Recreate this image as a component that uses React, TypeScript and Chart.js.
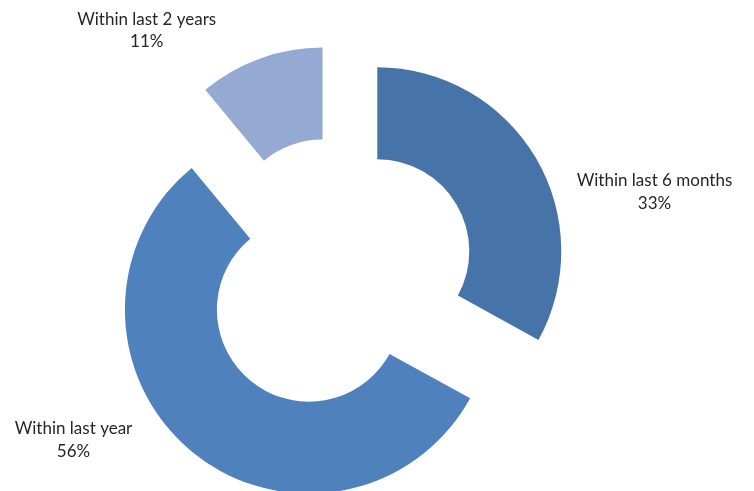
import React, { useEffect, useRef } from "react";
import { Chart, registerables } from "chart.js";

Chart.register(...registerables);

const categories = ["Within last 6 months", "Within last year", "Within last 2 years"];
const values = [33, 56, 11];
const percentLabels = ["33%", "56%", "11%"];
const sliceColors = ["#4673A8", "#4F81BD", "#95AAD2"];

// label anchor offsets relative to the doughnut centre (layout only)
const labelOffsets = [
  [316.5, -82.5],
  [-264.5, 165.5],
  [-191.3, -244],
];

const explodePlugin = {
  id: "explode",
  beforeDatasetDraw(chart: any, args: any, opts: any) {
    const meta = args.meta;
    const ctx = chart.ctx;
    meta.data.forEach((arc: any) => {
      const p = arc.getProps(["startAngle", "endAngle", "outerRadius"], true);
      const mid = (p.startAngle + p.endAngle) / 2;
      const d = p.outerRadius * (opts.ratio || 0);
      ctx.save();
      ctx.translate(Math.cos(mid) * d, Math.sin(mid) * d);
      arc.draw(ctx);
      ctx.restore();
    });
    return false;
  },
};

const labelPlugin = {
  id: "sliceLabels",
  afterDatasetsDraw(chart: any, _args: any, opts: any) {
    const meta = chart.getDatasetMeta(0);
    const ctx = chart.ctx;
    ctx.save();
    ctx.font = opts.font;
    ctx.fillStyle = opts.color;
    ctx.textAlign = "center";
    ctx.textBaseline = "middle";
    meta.data.forEach((arc: any, i: number) => {
      const cx = arc.x + labelOffsets[i][0];
      const cy = arc.y + labelOffsets[i][1];
      ctx.fillText(categories[i], cx, cy - opts.lineHeight / 2);
      ctx.fillText(percentLabels[i], cx, cy + opts.lineHeight / 2);
    });
    ctx.restore();
  },
};

export default function App() {
  const ref = useRef<HTMLCanvasElement>(null);
  useEffect(() => {
    if (!ref.current) return;
    const chart = new Chart(ref.current, {
      type: "doughnut",
      data: {
        labels: categories,
        datasets: [
          {
            data: values,
            backgroundColor: sliceColors,
            borderWidth: 0,
          },
        ],
      },
      options: {
        animation: false,
        responsive: true,
        maintainAspectRatio: false,
        radius: 184,
        cutout: "50%",
        layout: { padding: { left: 0, right: 78, top: 58, bottom: 0 } },
        plugins: {
          legend: { display: false },
          tooltip: { enabled: false },
          explode: { ratio: 0.248 },
          sliceLabels: { font: "17px Lato", color: "#262626", lineHeight: 22.5 },
        } as any,
      },
      plugins: [explodePlugin, labelPlugin],
    });
    return () => chart.destroy();
  }, []);
  return (
    <div style={{ position: "absolute", left: 0, top: 0, width: 754, height: 491, background: "#fff" }}>
      <canvas ref={ref} />
    </div>
  );
}
